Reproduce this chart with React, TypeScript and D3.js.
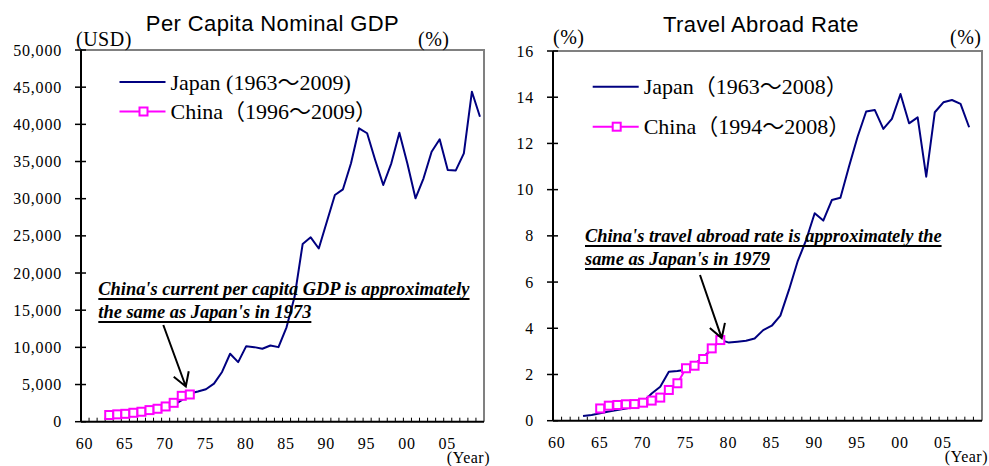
import React, { useEffect, useRef } from "react";
import * as d3 from "d3";

// Category axis: one band per year
const YEARS = d3.range(1960, 2010);
const X_TICK_YEARS = d3.range(1960, 2010, 5);
const fmtYear = (y: number) => String(y % 100).padStart(2, "0");

// Per capita nominal GDP (USD)
const GDP_TICKS = d3.range(0, 50001, 5000);
const GDP_JAPAN_START = 1963;
const gdpJapan = [
  720, 840, 920, 1070, 1230, 1450, 1670, 1970, 2230, 2900, 3800, 4060, 4370,
  5130, 6690, 9140, 8020, 10160, 10030, 9810, 10250, 10030, 12700, 16800,
  23900, 24800, 23300, 26900, 30500, 31260, 34760, 39470, 38800, 35200, 31840,
  34760, 38880, 34700, 30050, 32740, 36320, 37990, 33860, 33800, 36100, 44390,
  41030,
];
const GDP_CHINA_START = 1963;
const gdpChina = [900, 990, 1060, 1200, 1340, 1560, 1740, 2050, 2540, 3480, 3660];

// Travel abroad rate (%)
const TRAVEL_TICKS = d3.range(0, 17, 2);
const TRAVEL_JAPAN_START = 1963;
const travelJapan = [
  0.2, 0.25, 0.32, 0.4, 0.46, 0.53, 0.6, 0.8, 1.18, 1.47, 2.12, 2.15, 2.2, 2.45,
  2.75, 3.1, 3.5, 3.38, 3.42, 3.46, 3.56, 3.92, 4.11, 4.55, 5.66, 6.88, 7.82,
  8.98, 8.66, 9.55, 9.65, 11.0, 12.29, 13.38, 13.45, 12.63, 13.06, 14.14, 12.87,
  13.13, 10.56, 13.35, 13.78, 13.88, 13.71, 12.7,
];
const TRAVEL_CHINA_START = 1965;
const travelChina = [
  0.53, 0.65, 0.68, 0.71, 0.72, 0.78, 0.87, 1.0, 1.33, 1.62, 2.27, 2.38, 2.67,
  3.13, 3.49,
];

const SERIF = "'Liberation Serif', 'Times New Roman', 'Noto Sans CJK JP', serif";
const SANS = "'Liberation Sans', Arial, sans-serif";
const NAVY = "#000080";
const MAGENTA = "#FF00FF";

type PanelCfg = {
  left: number;
  right: number;
  top: number;
  bottom: number;
  yMax: number;
  ticks: number[];
  tickFmt: (v: number) => string;
  title: string;
  titleX: number;
  titleY: number;
  unitLeft: string;
  unitLeftX: number;
  unitLeftY: number;
  unitRightX: number;
  unitRightY: number;
  japan: number[];
  japanStart: number;
  china: number[];
  chinaStart: number;
  legendJapan: string;
  legendChina: string;
  legendX: number;
  legendY: number;
  legendGap: number;
  note: string[];
  noteX: number;
  noteY: number;
  arrowTail: [number, number];
  arrowTipOffset: [number, number];
};

function drawPanel(svg: d3.Selection<SVGSVGElement, unknown, null, undefined>, c: PanelCfg) {
  const g = svg.append("g");
  const x = d3.scaleBand<number>().domain(YEARS).range([c.left, c.right]).padding(0);
  const bw = x.bandwidth();
  const cx = (yr: number) => (x(yr) as number) + bw / 2;
  const y = d3.scaleLinear().domain([0, c.yMax]).range([c.bottom, c.top]);

  // frame: grey top and right edges
  g.append("path")
    .attr("d", `M${c.left},${c.top}H${c.right}V${c.bottom}`)
    .attr("fill", "none")
    .attr("stroke", "#808080")
    .attr("stroke-width", 2);

  // y axis with crossing ticks
  g.append("line")
    .attr("x1", c.left).attr("x2", c.left)
    .attr("y1", c.top).attr("y2", c.bottom)
    .attr("stroke", "#000").attr("stroke-width", 2);
  c.ticks.forEach((t) => {
    g.append("line")
      .attr("x1", c.left - 6).attr("x2", c.left + 5)
      .attr("y1", y(t)).attr("y2", y(t))
      .attr("stroke", "#000").attr("stroke-width", 1.5);
    g.append("text")
      .attr("x", c.left - 19)
      .attr("y", y(t))
      .attr("dy", "0.35em")
      .attr("text-anchor", "end")
      .attr("font-family", SERIF)
      .attr("font-size", 16)
      .attr("letter-spacing", 0.8)
      .text(c.tickFmt(t));
  });

  // x axis with yearly ticks pointing inward
  g.append("line")
    .attr("x1", c.left).attr("x2", c.right)
    .attr("y1", c.bottom).attr("y2", c.bottom)
    .attr("stroke", "#000").attr("stroke-width", 2);
  YEARS.forEach((yr) => {
    const xx = x(yr) as number;
    g.append("line")
      .attr("x1", xx).attr("x2", xx)
      .attr("y1", c.bottom).attr("y2", c.bottom - 4)
      .attr("stroke", "#000").attr("stroke-width", 1);
  });
  X_TICK_YEARS.forEach((yr) => {
    g.append("text")
      .attr("x", cx(yr) - 0.5)
      .attr("y", c.bottom + 27)
      .attr("text-anchor", "middle")
      .attr("font-family", SERIF)
      .attr("font-size", 16)
      .attr("letter-spacing", 0.8)
      .text(fmtYear(yr));
  });
  g.append("text")
    .attr("x", c.right + 6)
    .attr("y", c.bottom + 41)
    .attr("text-anchor", "end")
    .attr("font-family", SERIF)
    .attr("font-size", 16)
    .attr("letter-spacing", 0.5)
    .text("(Year)");

  // title and unit labels
  g.append("text")
    .attr("x", c.titleX)
    .attr("y", c.titleY)
    .attr("text-anchor", "middle")
    .attr("font-family", SANS)
    .attr("font-size", 22)
    .attr("letter-spacing", 0.4)
    .text(c.title);
  g.append("text")
    .attr("x", c.unitLeftX).attr("y", c.unitLeftY)
    .attr("font-family", SERIF).attr("font-size", 20).attr("letter-spacing", 0.5)
    .text(c.unitLeft);
  g.append("text")
    .attr("x", c.unitRightX).attr("y", c.unitRightY)
    .attr("font-family", SERIF).attr("font-size", 20).attr("letter-spacing", 0.5)
    .text("(%)");

  // Japan line
  const line = d3.line<[number, number]>().x((d) => d[0]).y((d) => d[1]);
  const jp: [number, number][] = c.japan.map((v, i) => [cx(c.japanStart + i), y(v)]);
  g.append("path")
    .attr("d", line(jp))
    .attr("fill", "none")
    .attr("stroke", NAVY)
    .attr("stroke-width", 2)
    .attr("stroke-linejoin", "round");

  // China line with square markers
  const cn: [number, number][] = c.china.map((v, i) => [cx(c.chinaStart + i), y(v)]);
  g.append("path")
    .attr("d", line(cn))
    .attr("fill", "none")
    .attr("stroke", MAGENTA)
    .attr("stroke-width", 2);
  const sq = 8;
  g.selectAll(null)
    .data(cn)
    .enter()
    .append("rect")
    .attr("x", (d) => d[0] - sq / 2)
    .attr("y", (d) => d[1] - sq / 2)
    .attr("width", sq)
    .attr("height", sq)
    .attr("fill", "#fff")
    .attr("stroke", MAGENTA)
    .attr("stroke-width", 2);

  // legend
  const ly1 = c.legendY;
  const ly2 = c.legendY + c.legendGap;
  g.append("line")
    .attr("x1", c.legendX).attr("x2", c.legendX + 46)
    .attr("y1", ly1).attr("y2", ly1)
    .attr("stroke", NAVY).attr("stroke-width", 2);
  g.append("line")
    .attr("x1", c.legendX).attr("x2", c.legendX + 46)
    .attr("y1", ly2).attr("y2", ly2)
    .attr("stroke", MAGENTA).attr("stroke-width", 2);
  g.append("rect")
    .attr("x", c.legendX + 24 - sq / 2).attr("y", ly2 - sq / 2)
    .attr("width", sq).attr("height", sq)
    .attr("fill", "#fff").attr("stroke", MAGENTA).attr("stroke-width", 2);
  [c.legendJapan, c.legendChina].forEach((s, i) => {
    g.append("text")
      .attr("x", c.legendX + 51)
      .attr("y", (i === 0 ? ly1 : ly2) + 7.5)
      .attr("font-family", SERIF)
      .attr("font-size", 22)
      .text(s);
  });

  // annotation with underlines
  c.note.forEach((s, i) => {
    const by = c.noteY + i * 23;
    const t = g.append("text")
      .attr("x", c.noteX)
      .attr("y", by)
      .attr("font-family", SERIF)
      .attr("font-size", 18.4)
      .attr("font-weight", "bold")
      .attr("font-style", "italic")
      .text(s);
    const w = (t.node() as SVGTextElement).getComputedTextLength();
    g.append("line")
      .attr("x1", c.noteX).attr("x2", c.noteX + w)
      .attr("y1", by + 4).attr("y2", by + 4)
      .attr("stroke", "#000").attr("stroke-width", 2);
  });

  // arrow toward China's latest point
  const last = cn[cn.length - 1];
  const tip: [number, number] = [last[0] + c.arrowTipOffset[0], last[1] + c.arrowTipOffset[1]];
  const [tx, ty] = c.arrowTail;
  const ang = Math.atan2(ty - tip[1], tx - tip[0]);
  const headLen = 15.5;
  const spread = (31 * Math.PI) / 180;
  const arm = (a: number): [number, number] => [tip[0] + headLen * Math.cos(a), tip[1] + headLen * Math.sin(a)];
  const a1 = arm(ang - spread);
  const a2 = arm(ang + spread);
  g.append("path")
    .attr("d", `M${tx},${ty}L${tip[0]},${tip[1]}M${a1[0]},${a1[1]}L${tip[0]},${tip[1]}L${a2[0]},${a2[1]}`)
    .attr("fill", "none")
    .attr("stroke", "#000")
    .attr("stroke-width", 2);
}

export default function App() {
  const ref = useRef<SVGSVGElement>(null);

  useEffect(() => {
    const svg = d3.select(ref.current as SVGSVGElement);
    svg.selectAll("*").remove();

    drawPanel(svg, {
      left: 81, right: 484, top: 50, bottom: 421.7,
      yMax: 50000,
      ticks: GDP_TICKS,
      tickFmt: d3.format(","),
      title: "Per Capita Nominal GDP",
      titleX: 272.5, titleY: 31,
      unitLeft: "(USD)", unitLeftX: 76, unitLeftY: 46,
      unitRightX: 418, unitRightY: 46,
      japan: gdpJapan, japanStart: GDP_JAPAN_START,
      china: gdpChina, chinaStart: GDP_CHINA_START,
      legendJapan: "Japan (1963～2009)",
      legendChina: "China（1996～2009）",
      legendX: 119.5, legendY: 82, legendGap: 29.5,
      note: ["China's current per capita GDP is approximately", "the same as Japan's in 1973"],
      noteX: 98.3, noteY: 295,
      arrowTail: [163.3, 325],
      arrowTipOffset: [-4, -8],
    });

    drawPanel(svg, {
      left: 553, right: 982, top: 51, bottom: 420.7,
      yMax: 16,
      ticks: TRAVEL_TICKS,
      tickFmt: d3.format("d"),
      title: "Travel Abroad Rate",
      titleX: 761, titleY: 32,
      unitLeft: "(%)", unitLeftX: 553, unitLeftY: 44,
      unitRightX: 950, unitRightY: 44,
      japan: travelJapan, japanStart: TRAVEL_JAPAN_START,
      china: travelChina, chinaStart: TRAVEL_CHINA_START,
      legendJapan: "Japan（1963～2008）",
      legendChina: "China（1994～2008）",
      legendX: 592.7, legendY: 86.7, legendGap: 40,
      note: ["China's travel abroad rate is approximately the", "same as Japan's in 1979"],
      noteX: 585, noteY: 242,
      arrowTail: [700, 275],
      arrowTipOffset: [1.4, -2],
    });
  }, []);

  return (
    <svg
      ref={ref}
      width={989}
      height={466}
      style={{ position: "absolute", left: 0, top: 0, background: "#fff" }}
    />
  );
}
